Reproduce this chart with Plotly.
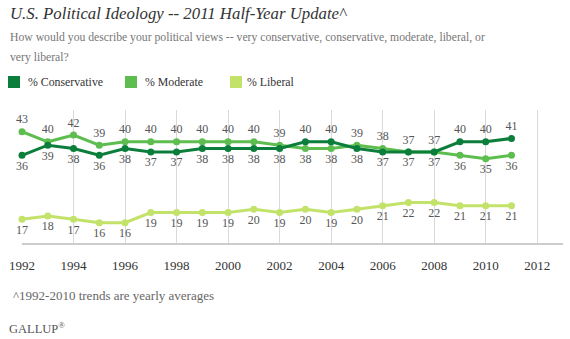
import plotly.graph_objects as go

years = list(range(1992, 2012))
conservative = [36, 39, 38, 36, 38, 37, 37, 38, 38, 38, 38, 40, 40, 38, 37, 37, 37, 40, 40, 41]
moderate = [43, 40, 42, 39, 40, 40, 40, 40, 40, 40, 39, 38, 38, 39, 38, 37, 37, 36, 35, 36]
liberal = [17, 18, 17, 16, 16, 19, 19, 19, 19, 20, 19, 20, 19, 20, 21, 22, 22, 21, 21, 21]
tick_years = list(range(1992, 2013, 2))

cons_pos = ["bottom center"] * 11 + ["top center"] * 2 + ["bottom center"] * 4 + ["top center"] * 3
mod_pos = ["top center"] * 11 + ["bottom center"] * 2 + ["top center"] * 4 + ["bottom center"] * 3
lib_pos = ["bottom center"] * 20

C_CONS = "#0b7e3b"
C_MOD = "#5dbd4f"
C_LIB = "#c3e26a"
SERIF = "Liberation Serif"
label_font = dict(family=SERIF, size=12, color="#555555")

fig = go.Figure()
for name, vals, col, pos in [
    ("% Liberal", liberal, C_LIB, lib_pos),
    ("% Moderate", moderate, C_MOD, mod_pos),
    ("% Conservative", conservative, C_CONS, cons_pos),
]:
    fig.add_trace(go.Scatter(
        x=years, y=vals, mode="lines+markers+text", name=name,
        line=dict(color=col, width=3), marker=dict(color=col, size=7),
        text=[str(v) for v in vals], textposition=pos, textfont=label_font,
        showlegend=False, cliponaxis=False, hoverinfo="x+y+name",
    ))

fig.update_layout(
    width=570, height=339,
    margin=dict(l=22, r=7, t=110, b=95),
    paper_bgcolor="white", plot_bgcolor="white",
    xaxis=dict(range=[1992, 2013], tickvals=tick_years, ticktext=[str(t) for t in tick_years],
               showgrid=True, gridcolor="#d9d9d9", gridwidth=1, zeroline=False,
               showline=False, ticks="", tickfont=dict(family=SERIF, size=13, color="#333333"),
               ticklabelstandoff=12),
    yaxis=dict(range=[9.67, 49.44], showgrid=False, zeroline=False, showticklabels=False,
               showline=False),
    shapes=[
        dict(type="line", xref="paper", yref="paper", x0=0, x1=1, y0=0, y1=0,
             line=dict(color="#cccccc", width=2)),
        dict(type="rect", xref="paper", yref="paper", x0=-14/541, x1=-2/541,
             y0=1 + 22/134, y1=1 + 34/134, fillcolor=C_CONS, line=dict(width=0)),
        dict(type="rect", xref="paper", yref="paper", x0=103/541, x1=115/541,
             y0=1 + 22/134, y1=1 + 34/134, fillcolor=C_MOD, line=dict(width=0)),
        dict(type="rect", xref="paper", yref="paper", x0=208/541, x1=220/541,
             y0=1 + 22/134, y1=1 + 34/134, fillcolor=C_LIB, line=dict(width=0)),
    ],
)

def ann(text, x, y, size, color, italic=False, xanchor="left"):
    fig.add_annotation(text=text, x=x, y=y, xref="paper", yref="paper",
                       xanchor=xanchor, yanchor="middle", showarrow=False,
                       font=dict(family=SERIF, size=size, color=color,
                                 style="italic" if italic else "normal"),
                       align="left")

W, H = 541, 134
def px(xp):
    return (xp - 22) / W
def py(yp):
    return (244 - yp) / H

ann("U.S. Political Ideology -- 2011 Half-Year Update^", px(8), py(14), 16.8, "#333333", italic=True)
ann("How would you describe your political views -- very conservative, conservative, moderate, liberal, or",
    px(8), py(37), 11.7, "#777777")
ann("very liberal?", px(8), py(57), 11.7, "#777777")
ann("% Conservative", px(26), py(82), 11.8, "#333333")
ann("% Moderate", px(143), py(82), 11.8, "#333333")
ann("% Liberal", px(245), py(82), 11.8, "#333333")
ann("^1992-2010 trends are yearly averages", px(11), py(295), 13, "#666666")
ann("GALLUP<sup>&#174;</sup>", px(7), py(328), 12.5, "#555555")

fig.write_html("out.html")
